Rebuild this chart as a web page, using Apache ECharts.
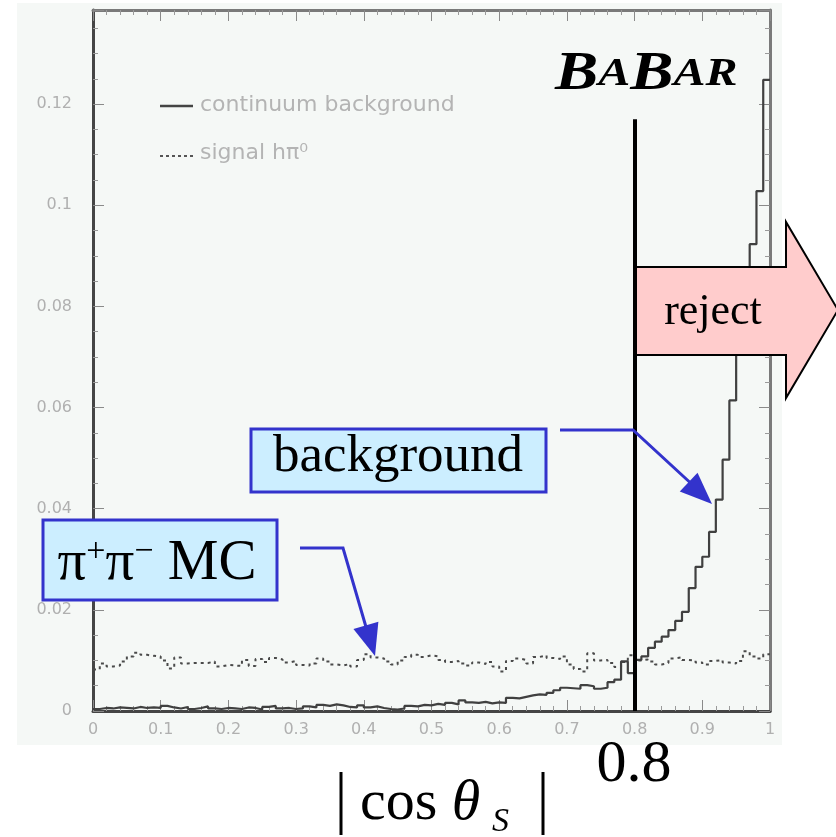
<!DOCTYPE html>
<html>
<head>
<meta charset="utf-8">
<title>|cos θS| — continuum background vs signal</title>
<script src="https://cdn.jsdelivr.net/npm/echarts@6/dist/echarts.min.js"></script>
<style>
  html, body { margin: 0; padding: 0; background: #ffffff; }
  #chart { width: 836px; height: 837px; }
</style>
</head>
<body>
<div id="chart"></div>
<script>
// Normalised |cos θS| distributions, 100 bins of width 0.01 on [0, 1]
const binWidth = 0.01;

// continuum background (solid histogram)
const backgroundCounts = [
  0.0004, 0.0006, 0.0005, 0.0007, 0.0006, 0.0005, 0.0008, 0.0006, 0.0007, 0.0006,
  0.0010, 0.0007, 0.0005, 0.0008, 0.0004, 0.0006, 0.0009, 0.0005, 0.0004, 0.0006,
  0.0005, 0.0004, 0.0007, 0.0006, 0.0003, 0.0008, 0.0010, 0.0005, 0.0006, 0.0004,
  0.0005, 0.0009, 0.0007, 0.0012, 0.0010, 0.0013, 0.0011, 0.0008, 0.0007, 0.0011,
  0.0007, 0.0009, 0.0006, 0.0004, 0.0003, 0.0005, 0.0010, 0.0009, 0.0012, 0.0011,
  0.0014, 0.0012, 0.0016, 0.0013, 0.0021, 0.0017, 0.0016, 0.0018, 0.0015, 0.0017,
  0.0016, 0.0026, 0.0025, 0.0028, 0.0031, 0.0033, 0.0032, 0.0036, 0.0041, 0.0046,
  0.0045, 0.0044, 0.0051, 0.0049, 0.0044, 0.0046, 0.0057, 0.0062, 0.0098, 0.0075,
  0.0101, 0.0108, 0.0125, 0.0137, 0.0147, 0.0160, 0.0178, 0.0196, 0.0243, 0.0285,
  0.0305, 0.0354, 0.0418, 0.0497, 0.0614, 0.0740, 0.0820, 0.0923, 0.1028, 0.1248
];

// signal h pi0 (dotted histogram)
const signalCounts = [
  0.0082, 0.0094, 0.0088, 0.0090, 0.0098, 0.0108, 0.0115, 0.0111, 0.0109, 0.0108,
  0.0100, 0.0084, 0.0106, 0.0094, 0.0095, 0.0095, 0.0095, 0.0098, 0.0088, 0.0091,
  0.0090, 0.0089, 0.0101, 0.0089, 0.0103, 0.0097, 0.0105, 0.0102, 0.0096, 0.0099,
  0.0091, 0.0090, 0.0094, 0.0104, 0.0098, 0.0092, 0.0090, 0.0093, 0.0088, 0.0101,
  0.0112, 0.0106, 0.0104, 0.0098, 0.0092, 0.0100, 0.0107, 0.0111, 0.0107, 0.0110,
  0.0108, 0.0101, 0.0097, 0.0099, 0.0094, 0.0090, 0.0096, 0.0093, 0.0097, 0.0088,
  0.0078, 0.0099, 0.0104, 0.0101, 0.0094, 0.0107, 0.0110, 0.0105, 0.0103, 0.0108,
  0.0092, 0.0083, 0.0078, 0.0114, 0.0100, 0.0101, 0.0095, 0.0087, 0.0097, 0.0110,
  0.0100, 0.0102, 0.0098, 0.0092, 0.0095, 0.0104, 0.0106, 0.0101, 0.0100, 0.0096,
  0.0092, 0.0099, 0.0101, 0.0096, 0.0094, 0.0099, 0.0118, 0.0108, 0.0104, 0.0112
];

const xTickLabels = ['0', '0.1', '0.2', '0.3', '0.4', '0.5', '0.6', '0.7', '0.8', '0.9', '1'];
const yTickLabels = ['0', '0.02', '0.04', '0.06', '0.08', '0.1', '0.12'];
const legendNames = ['continuum background', 'signal hπ⁰'];

const xRange = [0, 1];
const yRange = [0, 0.1386];
const cutValue = 0.8;       // |cos θS| selection cut
const cutLineTop = 0.117;   // height the cut marker reaches

const SERIF = "'Liberation Serif', 'Times New Roman', serif";
const SANS = "'DejaVu Sans', 'Liberation Sans', sans-serif";
const BLUE = '#3333cc';

// bin contents -> step-line points at bin edges
function toSteps(vals) {
  const pts = vals.map((v, i) => [+(i * binWidth).toFixed(4), v]);
  pts.push([+(vals.length * binWidth).toFixed(4), vals[vals.length - 1]]);
  return pts;
}

function labelFor(list) {
  return function (v) {
    const hit = list.find(l => Math.abs(parseFloat(l) - v) < 1e-9);
    return hit === undefined ? '' : hit;
  };
}

// arrow head triangle pointing from `from` towards `tip`
function arrowHead(from, tip, len, half) {
  const dx = tip[0] - from[0], dy = tip[1] - from[1];
  const d = Math.hypot(dx, dy);
  const ux = dx / d, uy = dy / d;
  const bx = tip[0] - ux * len, by = tip[1] - uy * len;
  return [tip, [bx - uy * half, by + ux * half], [bx + uy * half, by - ux * half]];
}

const chart = echarts.init(document.getElementById('chart'), null, { renderer: 'canvas' });

function frameAxis(color) {
  return {
    axisLine: { show: true, onZero: false, lineStyle: { color: color, width: 3 } },
    axisTick: { show: true, inside: true, length: 11, lineStyle: { color: '#8a8a8a', width: 1 } },
    splitLine: { show: false }
  };
}
const minorX = { show: true, splitNumber: 5, length: 5, lineStyle: { color: '#9a9a9a' } };
const minorY = { show: true, splitNumber: 4, length: 5, lineStyle: { color: '#9a9a9a' } };
const tickLabelStyle = { color: '#b0b0b0', fontFamily: SANS, fontSize: 16 };

const option = {
  backgroundColor: '#ffffff',
  animation: false,
  grid: { left: 93, right: 66, top: 10, bottom: 126, containLabel: false },
  xAxis: [
    Object.assign({
      type: 'value', min: xRange[0], max: xRange[1], interval: 0.1, position: 'bottom',
      minorTick: minorX,
      axisLabel: Object.assign({ show: true, margin: 11, formatter: labelFor(xTickLabels) }, tickLabelStyle)
    }, frameAxis('#454545')),
    Object.assign({
      type: 'value', min: xRange[0], max: xRange[1], interval: 0.1, position: 'top',
      minorTick: minorX, axisLabel: { show: false }
    }, frameAxis('#7a7a7a'))
  ],
  yAxis: [
    Object.assign({
      type: 'value', min: yRange[0], max: yRange[1], interval: 0.02, position: 'left',
      minorTick: minorY,
      axisLabel: Object.assign({ show: true, margin: 21, showMaxLabel: false, formatter: labelFor(yTickLabels) }, tickLabelStyle)
    }, frameAxis('#454545')),
    Object.assign({
      type: 'value', min: yRange[0], max: yRange[1], interval: 0.02, position: 'right',
      minorTick: minorY, axisLabel: { show: false }
    }, frameAxis('#7a7a7a'))
  ],
  series: [
    {
      name: legendNames[1], type: 'line', step: 'end', showSymbol: false, silent: true,
      data: toSteps(signalCounts),
      lineStyle: { color: '#4a4a4a', width: 2, type: [3, 4] }, z: 3
    },
    {
      name: legendNames[0], type: 'line', step: 'end', showSymbol: false, silent: true,
      data: toSteps(backgroundCounts),
      lineStyle: { color: '#404040', width: 2.2 }, z: 4,
      markLine: {
        silent: true, symbol: ['none', 'none'], label: { show: false },
        lineStyle: { color: '#000000', width: 4, type: 'solid' },
        data: [[{ coord: [cutValue, cutLineTop] }, { coord: [cutValue, 0] }]]
      }
    }
  ],
  graphic: [
    // light panel behind the plot
    { type: 'rect', z: -100, silent: true, shape: { x: 17, y: 3, width: 765, height: 742 }, style: { fill: '#f5f8f6' } },

    // legend
    { type: 'line', z: 50, shape: { x1: 160, y1: 106, x2: 193, y2: 106 }, style: { stroke: '#444', lineWidth: 2.5 } },
    { type: 'text', z: 50, x: 200, y: 105, style: { text: legendNames[0], fill: '#b4b4b4', font: '22px ' + SANS, verticalAlign: 'middle' } },
    { type: 'line', z: 50, shape: { x1: 160, y1: 156, x2: 193, y2: 156 }, style: { stroke: '#555', lineWidth: 2, lineDash: [3, 3] } },
    { type: 'text', z: 50, x: 200, y: 153, style: { text: legendNames[1], fill: '#b4b4b4', font: '22px ' + SANS, verticalAlign: 'middle' } },

    // BaBar logo (stretched horizontally about its own anchor)
    { type: 'text', z: 60, x: 555, y: 102, scaleX: 1.2, originX: 0, originY: 0, style: {
        text: '{b|B}{s|A}{b|B}{s|AR}', verticalAlign: 'bottom',
        rich: {
          b: { font: 'italic bold 54px ' + SERIF, fill: '#000' },
          s: { font: 'italic bold 40px ' + SERIF, fill: '#000' }
        } } },

    // reject arrow
    { type: 'polygon', z: 60, shape: { points: [[636, 267], [786, 267], [786, 222], [838, 310], [786, 398], [786, 355], [636, 355]] },
      style: { fill: '#ffcccc', stroke: '#000', lineWidth: 2 } },
    { type: 'text', z: 61, x: 713, y: 312, style: { text: 'reject', font: '44px ' + SERIF, fill: '#000', align: 'center', verticalAlign: 'middle' } },

    // background label with pointer
    { type: 'rect', z: 60, shape: { x: 251, y: 429, width: 295, height: 63 }, style: { fill: '#cceeff', stroke: BLUE, lineWidth: 3 } },
    { type: 'text', z: 61, x: 398, y: 457, style: { text: 'background', font: '53px ' + SERIF, fill: '#000', align: 'center', verticalAlign: 'middle' } },
    { type: 'polyline', z: 60, shape: { points: [[560, 430], [633, 430], [696, 488]] }, style: { stroke: BLUE, lineWidth: 3, fill: null } },
    { type: 'polygon', z: 60, shape: { points: arrowHead([633, 430], [712, 504], 32, 13) }, style: { fill: BLUE } },

    // pi+ pi- MC label with pointer
    { type: 'rect', z: 60, shape: { x: 43, y: 520, width: 234, height: 80 }, style: { fill: '#cceeff', stroke: BLUE, lineWidth: 3 } },
    { type: 'text', z: 61, x: 157, y: 564, style: {
        text: '{p|π}{u|+}{p|π}{u|−}{p| MC}', align: 'center', verticalAlign: 'middle',
        rich: {
          p: { font: '57px ' + SERIF, fill: '#000' },
          u: { font: '34px ' + SERIF, fill: '#000', verticalAlign: 'top', padding: [0, 0, 22, 0] }
        } } },
    { type: 'polyline', z: 60, shape: { points: [[300, 548], [343, 548], [366, 627]] }, style: { stroke: BLUE, lineWidth: 3, fill: null } },
    { type: 'polygon', z: 60, shape: { points: arrowHead([343, 548], [375, 656], 32, 13) }, style: { fill: BLUE } },

    // cut value and axis title
    { type: 'text', z: 60, x: 634, y: 765, style: { text: '0.8', font: '60px ' + SERIF, fill: '#000', align: 'center', verticalAlign: 'middle' } },
    { type: 'line', z: 60, shape: { x1: 341, y1: 772, x2: 341, y2: 835 }, style: { stroke: '#000', lineWidth: 3 } },
    { type: 'line', z: 60, shape: { x1: 543, y1: 772, x2: 543, y2: 835 }, style: { stroke: '#000', lineWidth: 3 } },
    { type: 'text', z: 60, x: 360, y: 804, style: {
        text: '{n|cos }{t|θ}', verticalAlign: 'middle',
        rich: { n: { font: '58px ' + SERIF, fill: '#000' }, t: { font: 'italic 58px ' + SERIF, fill: '#000' } } } },
    { type: 'text', z: 60, x: 492, y: 822, style: { text: 'S', font: 'italic 34px ' + SERIF, fill: '#000', verticalAlign: 'middle' } }
  ]
};

chart.setOption(option);
</script>
</body>
</html>
